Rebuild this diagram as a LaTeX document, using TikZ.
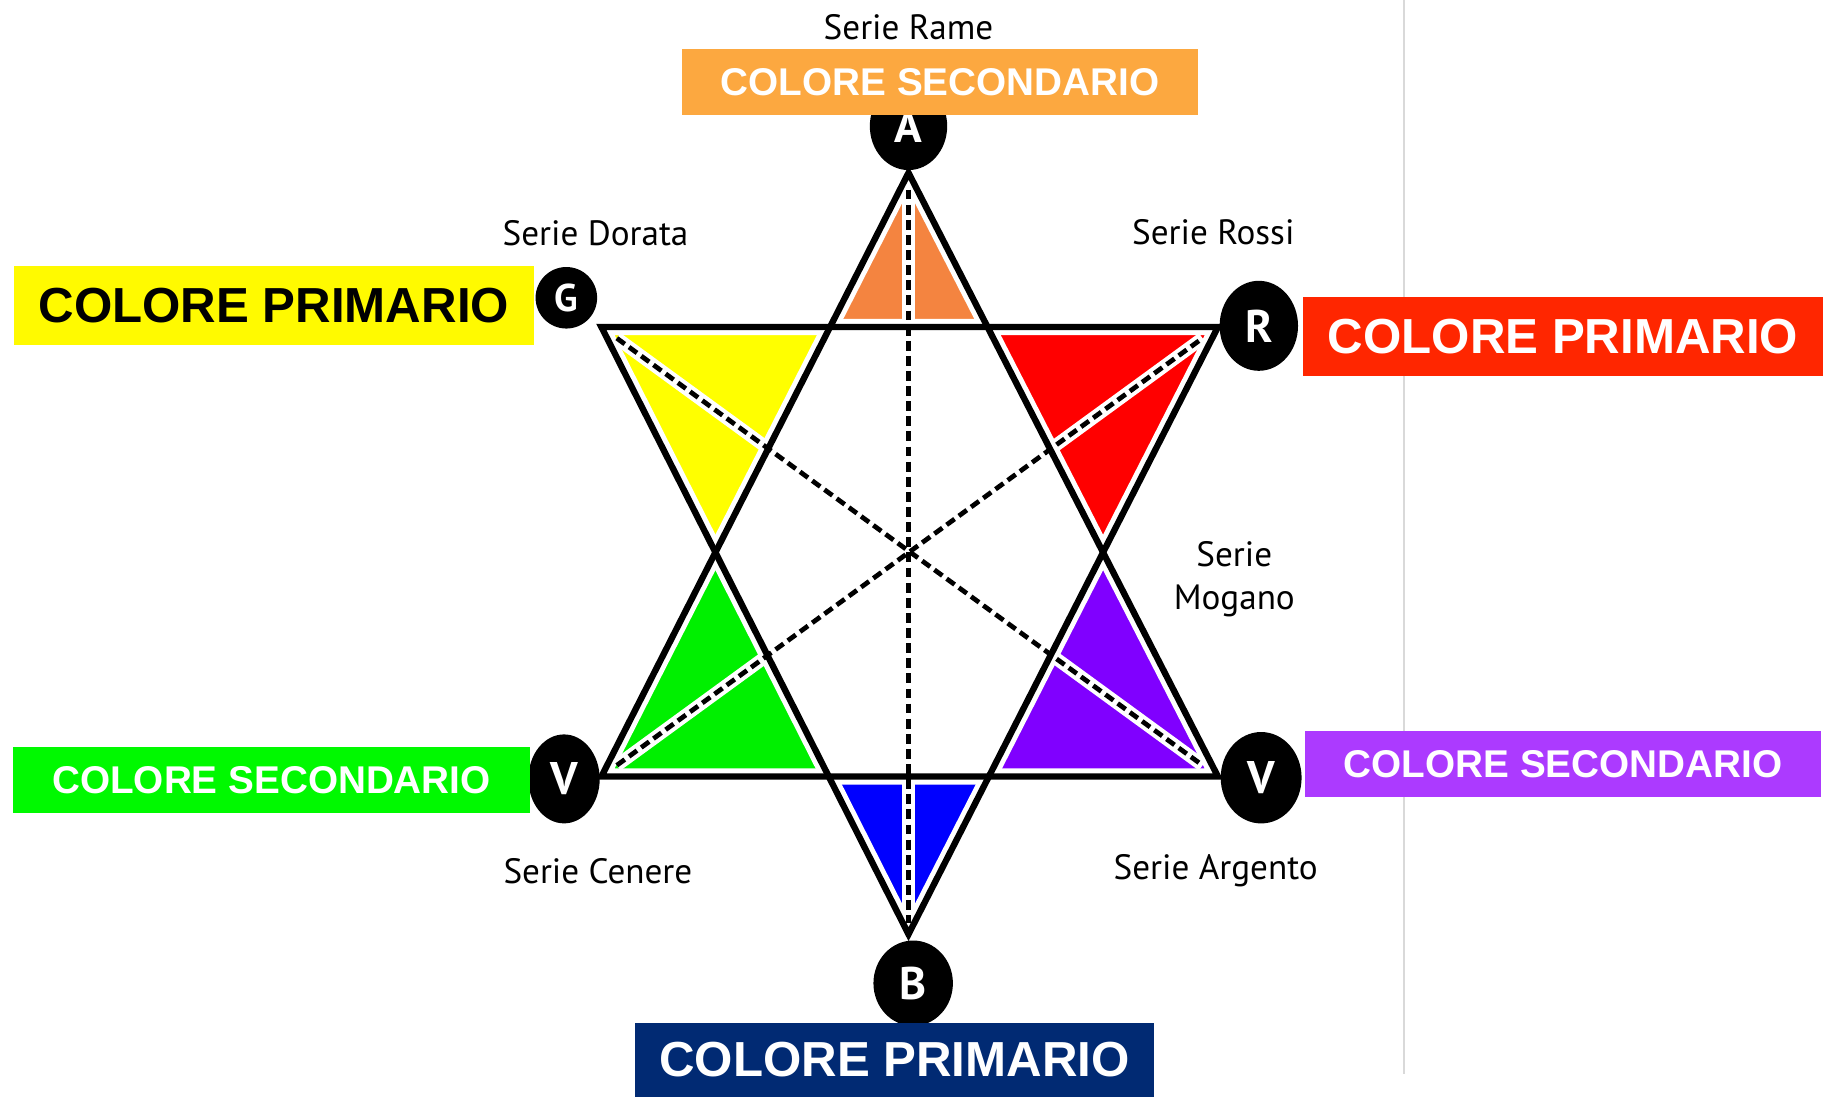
\documentclass[tikz,border=0pt]{standalone}
\usepackage{fontspec}
\setmainfont{PT Sans}
\newfontfamily\boxfont{Liberation Sans}
\usetikzlibrary{shapes.geometric,calc}

\definecolor{tiporange}{RGB}{244,132,64}
\definecolor{tipyellow}{RGB}{255,255,0}
\definecolor{tipred}{RGB}{255,0,0}
\definecolor{tipgreen}{RGB}{0,240,0}
\definecolor{tipviolet}{RGB}{128,0,255}
\definecolor{tipblue}{RGB}{0,0,255}
\definecolor{boxorange}{RGB}{252,168,64}
\definecolor{boxyellow}{RGB}{255,250,0}
\definecolor{boxred}{RGB}{255,38,0}
\definecolor{boxgreen}{RGB}{0,249,0}
\definecolor{boxviolet}{RGB}{172,58,255}
\definecolor{boxnavy}{RGB}{1,42,115}

\begin{document}
\begin{tikzpicture}[x=0.011677cm, y=-0.011677cm,
  every node/.style={inner sep=0pt},
  bigbox/.style={rectangle, minimum width=147.8pt, minimum height=22.4pt,
    font=\boxfont\bfseries\fontsize{14}{16}\selectfont},
  smallbox/.style={rectangle, minimum width=146.8pt, minimum height=18.7pt,
    font=\boxfont\bfseries\fontsize{11}{13}\selectfont, text=white},
  vertex/.style={ellipse, fill=black, text=white,
    font=\bfseries\fontsize{13}{13}\selectfont},
  serie/.style={font=\fontsize{10}{12}\selectfont, align=center},
  starline/.style={line width=1.8pt},
  halo/.style={white, line width=4.6pt},
  guide/.style={line width=1.35pt, dash pattern=on 2.8pt off 1.5pt}]

\path[use as bounding box] (0,0) rectangle (1568,939);

% page margin line
\draw[gray!30, line width=0.6pt] (1202,0) -- (1202,920);

% corners of the two triangles
\coordinate (a)  at (778,148);
\coordinate (b)  at (778,800);
\coordinate (g)  at (515,280);
\coordinate (r)  at (1043,280);
\coordinate (vl) at (515,665);
\coordinate (vr) at (1043,665);

% where the triangles cross
\coordinate (p1) at (intersection of a--vl and g--r);
\coordinate (p2) at (intersection of a--vr and g--r);
\coordinate (p3) at (intersection of a--vr and b--r);
\coordinate (p4) at (intersection of b--r and vl--vr);
\coordinate (p5) at (intersection of b--g and vl--vr);
\coordinate (p6) at (intersection of a--vl and b--g);

% coloured tips
\foreach \tip/\p/\q/\col in {a/p1/p2/tiporange, r/p2/p3/tipred,
    vr/p3/p4/tipviolet, b/p4/p5/tipblue, vl/p5/p6/tipgreen,
    g/p6/p1/tipyellow} {
  \fill[\col] (\tip) -- (\p) -- (\q) -- cycle;
}

% white gaps along the lines
\draw[halo] (a) -- (vl) -- (vr) -- cycle;
\draw[halo] (b) -- (g) -- (r) -- cycle;
\draw[halo, line width=3.6pt] ($(g)!0.025!(vr)$) -- ($(vr)!0.025!(g)$);
\draw[halo, line width=3.6pt] ($(vl)!0.025!(r)$) -- ($(r)!0.025!(vl)$);
\draw[halo, line width=3.6pt] ($(a)!0.022!(b)$) -- ($(b)!0.015!(a)$);

% star
\draw[starline] (a) -- (vl) -- (vr) -- cycle;
\draw[starline] (b) -- (g) -- (r) -- cycle;

% dashed diagonals
\draw[guide] ($(g)!0.025!(vr)$) -- ($(vr)!0.025!(g)$);
\draw[guide] ($(vl)!0.025!(r)$) -- ($(r)!0.025!(vl)$);
\draw[guide] ($(a)!0.022!(b)$) -- ($(b)!0.015!(a)$);

% letters at the corners
\node[vertex, minimum width=22pt, minimum height=25pt] (nA) at (778,108) {A};
\node[vertex, minimum width=17.5pt, minimum height=17.5pt,
      font=\bfseries\fontsize{11}{11}\selectfont] (nG) at (485,255) {G};
\node[vertex, minimum width=22.3pt, minimum height=25.6pt] (nR) at (1078,279) {R};
\node[vertex, minimum width=20.3pt, minimum height=25.3pt] (nVL) at (483,667) {V};
\node[vertex, minimum width=23pt, minimum height=26pt] (nVR) at (1080,666) {V};
\node[vertex, minimum width=22.6pt, minimum height=24.3pt] (nB) at (782,842) {B};

% series names
\node[serie] (rame)    at (778,23)   {Serie Rame};
\node[serie] (dorata)  at (510,200)  {Serie Dorata};
\node[serie] (rossi)   at (1039,199) {Serie Rossi};
\node[serie] (mogano)  at (1057,496) {Serie\\Mogano};
\node[serie] (cenere)  at (512,746)  {Serie Cenere};
\node[serie] (argento) at (1041,746) {Serie Argento};

% colour boxes
\node[smallbox, fill=boxorange] (secA) at (805,70) {COLORE SECONDARIO};
\node[bigbox, fill=boxyellow] (primG) at (234.5,261.5) {COLORE PRIMARIO};
\node[bigbox, fill=boxred, text=white] (primR) at (1338.5,288) {COLORE PRIMARIO};
\node[smallbox, fill=boxgreen] (secVL) at (232.5,668) {COLORE SECONDARIO};
\node[smallbox, fill=boxviolet] (secVR) at (1338.5,654.5) {COLORE SECONDARIO};
\node[bigbox, fill=boxnavy, text=white, minimum height=21pt] (primB) at (766,907.5)
  {COLORE PRIMARIO};
\end{tikzpicture}
\end{document}
